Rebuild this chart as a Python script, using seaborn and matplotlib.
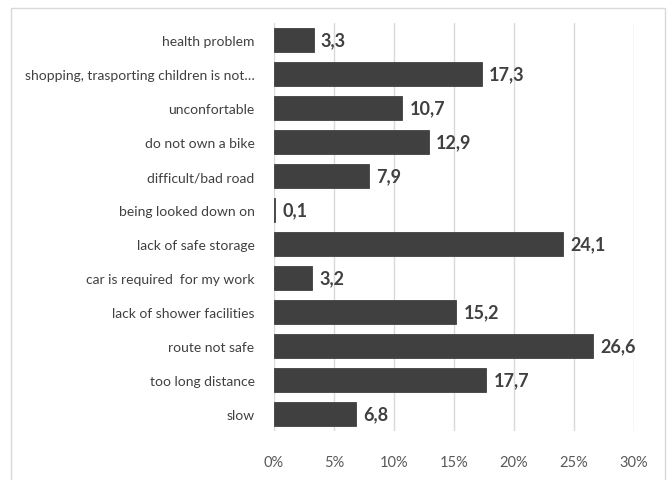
import matplotlib
matplotlib.use("Agg")
import matplotlib.pyplot as plt
from matplotlib.patches import Rectangle
from matplotlib.ticker import FuncFormatter
import seaborn as sns
import pandas as pd

reasons = [
    "health problem",
    "shopping, trasporting children is not…",
    "unconfortable",
    "do not own a bike",
    "difficult/bad road",
    "being looked down on",
    "lack of safe storage",
    "car is required  for my work",
    "lack of shower facilities",
    "route not safe",
    "too long distance",
    "slow",
]
shares = [3.3, 17.3, 10.7, 12.9, 7.9, 0.1, 24.1, 3.2, 15.2, 26.6, 17.7, 6.8]
x_ticks = [0, 5, 10, 15, 20, 25, 30]

df = pd.DataFrame({"reason": reasons, "share": shares})

sns.set_theme(style="white")
plt.rcParams["font.family"] = ["Lato", "DejaVu Sans"]

text_color = "#404040"
bar_color = "#404040"
grid_color = "#d9d9d9"

fig = plt.figure(figsize=(6.67, 4.81), dpi=100)
fig.patch.set_facecolor("white")
ax = fig.add_axes([274 / 667, 1 - 432 / 481, 360 / 667, 408 / 481])

sns.barplot(data=df, x="share", y="reason", orient="h", color=bar_color,
            saturation=1, width=0.7, ax=ax, zorder=3,
            edgecolor=bar_color, linewidth=0.6)

ax.set_xlim(0, 30)
ax.set_ylim(11.5, -0.5)
ax.set_xticks(x_ticks)
ax.xaxis.set_major_formatter(FuncFormatter(lambda v, _: f"{v:.0f}%"))
ax.grid(axis="x", color=grid_color, linewidth=1, zorder=0)
ax.grid(axis="y", visible=False)
for s in ax.spines.values():
    s.set_visible(False)
ax.set_xlabel("")
ax.set_ylabel("")
ax.tick_params(axis="x", length=0, pad=17, labelsize=10.5, labelcolor="#595959")
ax.tick_params(axis="y", length=0, pad=14, labelsize=10, labelcolor=text_color)

for i, v in enumerate(shares):
    ax.text(v + 0.6, i, f"{v:.1f}".replace(".", ","), va="center", ha="left",
            fontsize=13, fontweight="bold", color=text_color, zorder=4)

fig.patches.append(Rectangle((11 / 667, -0.1), (665 - 11) / 667, 1.1 - 9 / 481,
                             transform=fig.transFigure, fill=False,
                             edgecolor="#d9d9d9", linewidth=1))

fig.savefig("out.png", dpi=100, facecolor="white")
